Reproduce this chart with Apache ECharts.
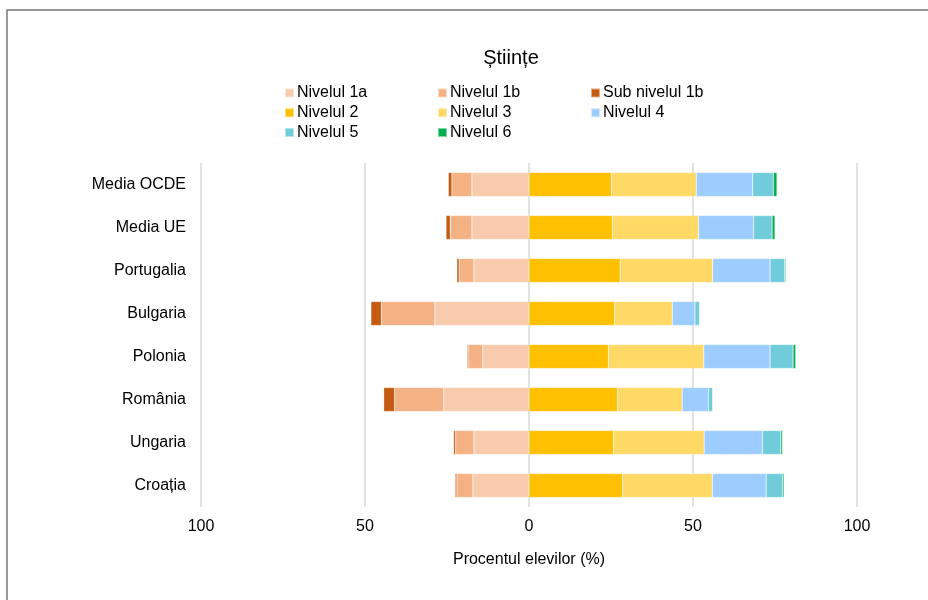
<!DOCTYPE html>
<html>
<head>
<meta charset="utf-8">
<script src="https://cdn.jsdelivr.net/npm/echarts@6/dist/echarts.min.js"></script>
<style>
html,body{margin:0;padding:0;background:#fff;}
#chart{width:928px;height:600px;}
</style>
</head>
<body>
<div id="chart"></div>
<script>
// Categories (top to bottom)
const categories = ['Media OCDE','Media UE','Portugalia','Bulgaria','Polonia','România','Ungaria','Croația'];
// Below level 2 (percentages, drawn to the left)
const nivelul1a   = [17.4, 17.4, 16.8, 28.7, 14.1, 26.0, 16.8, 17.1];
const nivelul1b   = [6.1, 6.6, 4.5, 16.3, 4.3, 15.0, 5.6, 4.9];
const subNivelul1b= [1.1, 1.3, 0.7, 3.2, 0.4, 3.3, 0.6, 0.5];
// Level 2 and above (drawn to the right)
const nivelul2 = [25.1, 25.4, 27.8, 26.1, 24.2, 27.0, 25.8, 28.5];
const nivelul3 = [25.9, 26.3, 28.2, 17.6, 29.1, 19.7, 27.6, 27.4];
const nivelul4 = [17.2, 16.8, 17.5, 6.9, 20.2, 8.0, 17.8, 16.4];
const nivelul5 = [6.3, 5.6, 4.5, 1.4, 7.0, 1.3, 5.6, 5.1];
const nivelul6 = [1.1, 0.9, 0.3, 0.1, 0.8, 0.1, 0.5, 0.4];
const tickValues = [-100, -50, 0, 50, 100];

const seriesDefs = [
  {name:'Nivelul 1a', data:nivelul1a, neg:true, color:'#F8CBAD'},
  {name:'Nivelul 1b', data:nivelul1b, neg:true, color:'#F4B183'},
  {name:'Sub nivelul 1b', data:subNivelul1b, neg:true, color:'#C55A11'},
  {name:'Nivelul 2', data:nivelul2, neg:false, color:'#FFC000'},
  {name:'Nivelul 3', data:nivelul3, neg:false, color:'#FFD966'},
  {name:'Nivelul 4', data:nivelul4, neg:false, color:'#9DCCFF'},
  {name:'Nivelul 5', data:nivelul5, neg:false, color:'#70CCDA'},
  {name:'Nivelul 6', data:nivelul6, neg:false, color:'#00B050'}
];

const font = 'Liberation Sans, Arial, sans-serif';
const legendBase = {
  orient:'vertical', top:83, padding:0, itemGap:0, itemWidth:9, itemHeight:9,
  icon:'rect', selectedMode:false,
  textStyle:{fontFamily:font, fontSize:16, color:'#000', lineHeight:19.8, padding:[0,0,0,-2]}
};

const chart = echarts.init(document.getElementById('chart'), null, {renderer:'canvas'});
chart.setOption({
  animation:false,
  backgroundColor:'#fff',
  graphic:[{type:'rect', shape:{x:7, y:10, width:1000, height:700}, style:{fill:'none', stroke:'#767676', lineWidth:1.5}, silent:true, z:-10}],
  title:{text:'Științe', left:506, textAlign:'center', top:43,
    textStyle:{fontFamily:font, fontSize:20, fontWeight:'normal', color:'#000'}},
  legend:[
    Object.assign({}, legendBase, {left:284, data:['Nivelul 1a','Nivelul 2','Nivelul 5']}),
    Object.assign({}, legendBase, {left:437, data:['Nivelul 1b','Nivelul 3','Nivelul 6']}),
    Object.assign({}, legendBase, {left:590, data:['Sub nivelul 1b','Nivelul 4']})
  ],
  grid:{left:201, top:163, width:656, height:344, containLabel:false},
  xAxis:{
    type:'value', min:tickValues[0], max:tickValues[tickValues.length-1], interval:50,
    axisLine:{show:false}, axisTick:{show:false},
    splitLine:{show:true, lineStyle:{color:'#d9d9d9', width:1.5}},
    axisLabel:{formatter:v=>String(Math.abs(v)), fontFamily:font, fontSize:16, color:'#000', margin:12},
    name:'Procentul elevilor (%)', nameLocation:'middle', nameGap:45,
    nameTextStyle:{fontFamily:font, fontSize:16, color:'#000'}
  },
  yAxis:{
    type:'category', data:categories, inverse:true,
    axisLine:{show:false}, axisTick:{show:false},
    axisLabel:{fontFamily:font, fontSize:16, color:'#000', margin:15}
  },
  series:seriesDefs.map(s=>({
    name:s.name, type:'bar', stack:'total', barWidth:24,
    data:s.data.map(v=>s.neg ? -v : v),
    itemStyle:{color:s.color, borderColor:'rgba(255,255,255,0.5)', borderWidth:0.5}
  }))
});
</script>
</body>
</html>
